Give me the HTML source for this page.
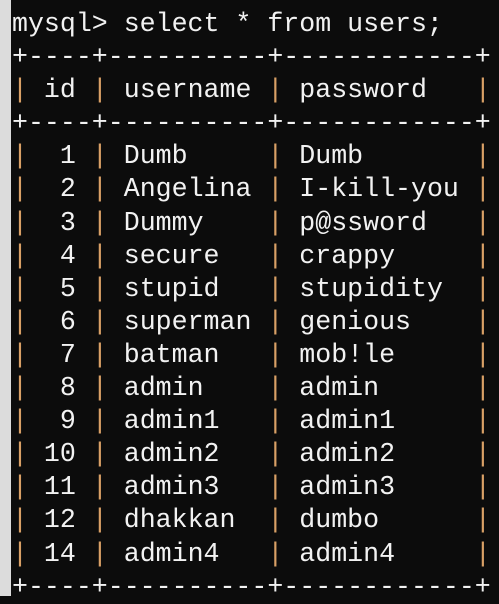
<!DOCTYPE html>
<html><head><style>
html,body{margin:0;padding:0;background:#0c0c0c;width:499px;height:596px;overflow:hidden}
.strip{position:absolute;left:0;top:0;width:11px;height:596px;background:#dcdcdc}
pre{position:absolute;left:12px;top:8px;margin:0;font-family:"Liberation Mono",monospace;font-size:26.6px;line-height:33.1px;color:#f2f2f2;letter-spacing:0}
.o{color:#d9a066}
</style></head><body>
<div class="strip"></div>
<pre>mysql&gt; select * from users;
+----+----------+------------+
<span class="o">|</span> id <span class="o">|</span> username <span class="o">|</span> password   <span class="o">|</span>
+----+----------+------------+
<span class="o">|</span>  1 <span class="o">|</span> Dumb     <span class="o">|</span> Dumb       <span class="o">|</span>
<span class="o">|</span>  2 <span class="o">|</span> Angelina <span class="o">|</span> I-kill-you <span class="o">|</span>
<span class="o">|</span>  3 <span class="o">|</span> Dummy    <span class="o">|</span> p@ssword   <span class="o">|</span>
<span class="o">|</span>  4 <span class="o">|</span> secure   <span class="o">|</span> crappy     <span class="o">|</span>
<span class="o">|</span>  5 <span class="o">|</span> stupid   <span class="o">|</span> stupidity  <span class="o">|</span>
<span class="o">|</span>  6 <span class="o">|</span> superman <span class="o">|</span> genious    <span class="o">|</span>
<span class="o">|</span>  7 <span class="o">|</span> batman   <span class="o">|</span> mob!le     <span class="o">|</span>
<span class="o">|</span>  8 <span class="o">|</span> admin    <span class="o">|</span> admin      <span class="o">|</span>
<span class="o">|</span>  9 <span class="o">|</span> admin1   <span class="o">|</span> admin1     <span class="o">|</span>
<span class="o">|</span> 10 <span class="o">|</span> admin2   <span class="o">|</span> admin2     <span class="o">|</span>
<span class="o">|</span> 11 <span class="o">|</span> admin3   <span class="o">|</span> admin3     <span class="o">|</span>
<span class="o">|</span> 12 <span class="o">|</span> dhakkan  <span class="o">|</span> dumbo      <span class="o">|</span>
<span class="o">|</span> 14 <span class="o">|</span> admin4   <span class="o">|</span> admin4     <span class="o">|</span>
+----+----------+------------+</pre>
</body></html>
